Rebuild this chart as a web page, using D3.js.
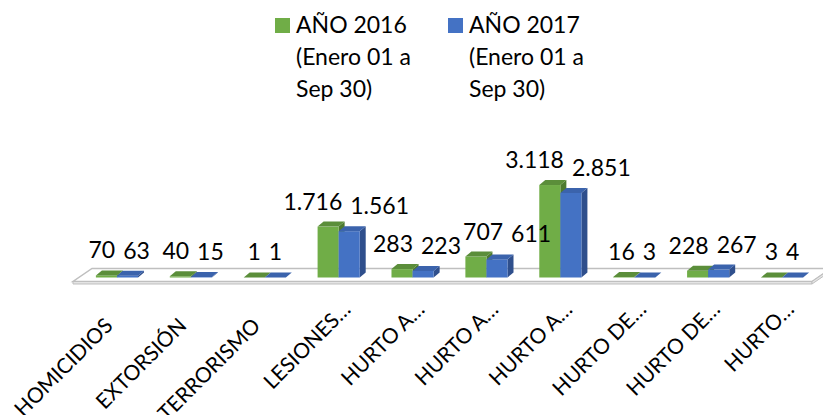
<!DOCTYPE html>
<html>
<head>
<meta charset="utf-8">
<script src="https://cdn.jsdelivr.net/npm/d3@7"></script>
<style>
body{margin:0;background:#fff;}
text{font-family:Lato,"Open Sans",sans-serif;fill:#000;}
</style>
</head>
<body>
<div id="graph"></div>
<script>
var width=823;
var height=415;

// data
var categorias=["HOMICIDIOS","EXTORSIÓN","TERRORISMO","LESIONES…","HURTO A…","HURTO A…","HURTO A…","HURTO DE…","HURTO DE…","HURTO…"];
var series=["AÑO 2016","AÑO 2017"];
var subtitulo=["(Enero 01 a","Sep 30)"];
var valores2016=[70,40,1,1716,283,707,3118,16,228,3];
var valores2017=[63,15,1,1561,223,611,2851,3,267,4];

var colores=[
	{front:"#70ad47",top:"#5b8e3a",side:"#4d7a30"},
	{front:"#4472c4",top:"#3b63ac",side:"#2f4f8c"}
];

var fmt=function(v){return d3.format(",")(v).replace(/,/g,".");};

var svg=d3.select('#graph').append('svg').attr('width',width).attr('height',height);

// 3d offsets
var dx=6,dy=-5;
var floorDx=19,floorDy=-13;
var base=277.5;

var x=d3.scaleBand().domain(d3.range(categorias.length)).range([80,819]).paddingInner(0.43).paddingOuter(0.215);
var xs=d3.scaleBand().domain([0,1]).range([0,x.bandwidth()]);
var y=d3.scaleLinear().domain([0,3500]).range([base,base-103.8]);

// floor
var fl=73,fr=812,ff=281.5;
svg.append('polygon')
	.attr('points',[[fl,ff],[fr,ff],[fr+floorDx,ff+floorDy],[fl+floorDx,ff+floorDy]].join(' '))
	.attr('fill','#fff').attr('stroke','#bfbfbf').attr('stroke-width',1.5);
svg.append('polygon')
	.attr('points',[[fl,ff],[fr,ff],[fr,ff+2.5],[fl,ff+2.5]].join(' '))
	.attr('fill','#e4e4e4').attr('stroke','#bfbfbf').attr('stroke-width',1);
svg.append('polygon')
	.attr('points',[[fr,ff],[fr+floorDx,ff+floorDy],[fr+floorDx,ff+floorDy+2.5],[fr,ff+2.5]].join(' '))
	.attr('fill','#e4e4e4').attr('stroke','#bfbfbf').attr('stroke-width',1);

var datos=[];
categorias.forEach(function(c,i){
	datos.push({cat:i,s:0,v:valores2016[i]});
	datos.push({cat:i,s:1,v:valores2017[i]});
});

var g=svg.selectAll('g.bar').data(datos).enter().append('g').attr('class','bar');
g.each(function(d){
	var sel=d3.select(this);
	var x0=x(d.cat)+xs(d.s), w=xs.bandwidth(), yt=y(d.v);
	var c=colores[d.s];
	sel.append('polygon')
		.attr('points',[[x0+w,yt],[x0+w+dx,yt+dy],[x0+w+dx,base+dy],[x0+w,base]].join(' '))
		.attr('fill',c.side);
	sel.append('rect').attr('x',x0).attr('y',yt).attr('width',w).attr('height',base-yt).attr('fill',c.front);
	sel.append('polygon')
		.attr('points',[[x0,yt],[x0+dx,yt+dy],[x0+w+dx,yt+dy],[x0+w,yt]].join(' '))
		.attr('fill',c.top);
});

// value labels
var etiquetas=svg.selectAll('text.val').data(datos).enter().append('text')
	.attr('class','val')
	.style('font-size','23px')
	.attr('text-anchor','middle')
	.attr('y',function(d){return y(d.v)+dy-12;})
	.attr('x',function(d){return x(d.cat)+xs(d.s)+xs.bandwidth()/2;})
	.text(function(d){return fmt(d.v);});

// spread each pair apart, then push right anything still overlapping its left neighbour
var nodos=etiquetas.nodes();
var gap=8;
var cajas=nodos.map(function(n,k){
	return {n:n,cx:+n.getAttribute('x'),w:n.getComputedTextLength(),y:+n.getAttribute('y'),s:k%2};
});
for(var i=0;i<cajas.length;i+=2){
	var a=cajas[i],b=cajas[i+1];
	var falta=(a.w+b.w)/2+gap-(b.cx-a.cx);
	if(falta>0){a.cx-=falta/3;b.cx+=falta*2/3;}
}
for(var i=1;i<cajas.length;i++){
	var p=cajas[i-1],q=cajas[i];
	if(Math.abs(p.y-q.y)<20){
		var sep=q.s===1?gap:2;
		var minimo=p.cx+p.w/2+sep+q.w/2;
		if(q.cx<minimo)q.cx=minimo;
	}
}
cajas.forEach(function(c){c.n.setAttribute('x',c.cx);});

// category labels
svg.selectAll('text.cat').data(categorias).enter().append('text')
	.attr('class','cat')
	.style('font-size','21px')
	.attr('text-anchor','end')
	.attr('transform',function(d,i){return 'translate('+(x(i)+x.bandwidth()/2-3)+',327) rotate(-45)';})
	.attr('dx',function(d){return /…$/.test(d)?23:0;})
	.text(function(d){return d;});

// legend
var leg=svg.selectAll('g.leg').data(series).enter().append('g').attr('class','leg')
	.attr('transform',function(d,i){return 'translate('+(275+i*173)+',0)';});
leg.append('rect').attr('x',0).attr('y',18).attr('width',15).attr('height',15)
	.attr('fill',function(d,i){return colores[i].front;});
var lt=leg.append('text').style('font-size','23px');
lt.append('tspan').attr('x',21).attr('y',33).text(function(d){return d;});
subtitulo.forEach(function(s,k){
	lt.append('tspan').attr('x',21).attr('y',65+k*32).text(s);
});
</script>
</body>
</html>
